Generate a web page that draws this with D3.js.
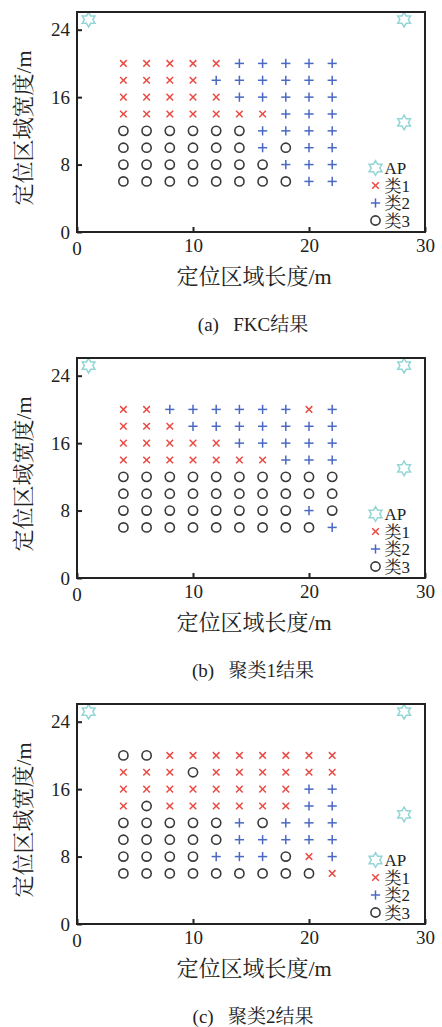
<!DOCTYPE html>
<html>
<head>
<meta charset="utf-8">
<script src="https://cdn.jsdelivr.net/npm/d3@7"></script>
<style>
  body { margin: 0; background: #fff; }
  text { font-family: "Liberation Serif", "Noto Serif CJK SC", "Noto Sans CJK SC", serif; fill: #222; }
</style>
</head>
<body>
<svg id="chart" width="442" height="1027"></svg>
<script>
// grid of test points (m)
const xs = [4, 6, 8, 10, 12, 14, 16, 18, 20, 22];
const ys = [20, 18, 16, 14, 12, 10, 8, 6];

// AP locations (m)
const apX = [1, 28.2, 28.2];
const apY = [25.2, 25.2, 13];

// class of each point, rows follow ys, columns follow xs
const fkcLabels = [
    [1, 1, 1, 1, 1, 2, 2, 2, 2, 2],
    [1, 1, 1, 1, 2, 2, 2, 2, 2, 2],
    [1, 1, 1, 1, 1, 2, 2, 2, 2, 2],
    [1, 1, 1, 1, 1, 1, 1, 2, 2, 2],
    [3, 3, 3, 3, 3, 3, 2, 2, 2, 2],
    [3, 3, 3, 3, 3, 3, 2, 3, 2, 2],
    [3, 3, 3, 3, 3, 3, 3, 2, 2, 2],
    [3, 3, 3, 3, 3, 3, 3, 3, 2, 2]
];
const cluster1Labels = [
    [1, 1, 2, 2, 2, 2, 2, 2, 1, 2],
    [1, 1, 1, 2, 2, 2, 2, 2, 2, 2],
    [1, 1, 1, 1, 1, 2, 2, 2, 2, 2],
    [1, 1, 1, 1, 1, 1, 1, 2, 2, 2],
    [3, 3, 3, 3, 3, 3, 3, 3, 3, 3],
    [3, 3, 3, 3, 3, 3, 3, 3, 3, 3],
    [3, 3, 3, 3, 3, 3, 3, 3, 2, 3],
    [3, 3, 3, 3, 3, 3, 3, 3, 3, 2]
];
const cluster2Labels = [
    [3, 3, 1, 1, 1, 1, 1, 1, 1, 1],
    [1, 1, 1, 3, 1, 1, 1, 1, 1, 1],
    [1, 1, 1, 1, 1, 1, 1, 1, 2, 2],
    [1, 3, 1, 1, 1, 1, 1, 1, 2, 2],
    [3, 3, 3, 3, 3, 2, 3, 2, 2, 2],
    [3, 3, 3, 3, 3, 2, 2, 2, 2, 2],
    [3, 3, 3, 3, 2, 2, 2, 3, 1, 2],
    [3, 3, 3, 3, 3, 3, 3, 3, 3, 1]
];

const xTicks = [0, 10, 20, 30];
const yTicks = [0, 8, 16, 24];
const legendNames = ['AP', '类1', '类2', '类3'];
const captions = ['(a)\u2002 FKC结果', '(b)\u2002 聚类1结果', '(c)\u2002 聚类2结果'];

const panels = [fkcLabels, cluster1Labels, cluster2Labels];

const svg = d3.select('#chart');
const plotL = 77, plotR = 425, plotT = 12, plotB = 232, step = 346;

const x = d3.scaleLinear().domain([0, 30]).range([plotL, plotR]);
const y = d3.scaleLinear().domain([0, 26.1]).range([plotB, plotT]);

// six-pointed star outline
const hexagram = {
    draw(context, size) {
        const R = Math.sqrt(size) * 0.62, r = R / Math.sqrt(3);
        for (let i = 0; i < 12; i++) {
            const a = -Math.PI / 2 + i * Math.PI / 6;
            const rr = i % 2 ? r : R;
            if (i === 0) context.moveTo(rr * Math.cos(a), rr * Math.sin(a));
            else context.lineTo(rr * Math.cos(a), rr * Math.sin(a));
        }
        context.closePath();
    }
};
const star = d3.symbol().type(hexagram).size(140);
const colors = {1: '#ea4a43', 2: '#4a69c4', 3: '#3a3a3a', 0: '#93d6d6'};

function drawMarker(g, cls, px, py) {
    if (cls === 3) {
        g.append('circle').attr('cx', px).attr('cy', py).attr('r', 4.6)
            .attr('fill', 'none').attr('stroke', colors[3]).attr('stroke-width', 1.6);
    } else if (cls === 0) {
        g.append('path').attr('d', star).attr('transform', `translate(${px},${py})`)
            .attr('fill', 'none').attr('stroke', colors[0]).attr('stroke-width', 1.5);
    } else {
        // thin strokes for x and +
        const sz = cls === 1 ? 3.3 : 4.6;
        const segs = cls === 1
            ? [[-sz, -sz, sz, sz], [-sz, sz, sz, -sz]]
            : [[-sz, 0, sz, 0], [0, -sz, 0, sz]];
        segs.forEach(s => g.append('line')
            .attr('x1', px + s[0]).attr('y1', py + s[1])
            .attr('x2', px + s[2]).attr('y2', py + s[3])
            .attr('stroke', colors[cls]).attr('stroke-width', 1.5));
    }
}

panels.forEach((labels, k) => {
    const g = svg.append('g').attr('transform', `translate(0,${k * step})`);

    // points
    const pts = g.append('g');
    labels.forEach((row, i) => row.forEach((cls, j) => drawMarker(pts, cls, x(xs[j]), y(ys[i]))));
    apX.forEach((v, i) => drawMarker(pts, 0, x(v), y(apY[i])));

    // inward ticks
    g.append('g')
        .attr('transform', `translate(0,${plotB})`)
        .call(d3.axisBottom(x).tickValues(xTicks).tickSize(-5).tickPadding(7).tickFormat(d => d === 0 ? '' : d))
        .call(a => a.select('.domain').remove())
        .call(a => a.selectAll('line').attr('stroke', '#222').attr('stroke-width', 2))
        .call(a => a.selectAll('text').attr('font-size', 19).attr('fill', '#222'));
    g.append('g')
        .attr('transform', `translate(${plotL},0)`)
        .call(d3.axisLeft(y).tickValues(yTicks).tickSize(-5).tickPadding(7))
        .call(a => a.select('.domain').remove())
        .call(a => a.selectAll('line').attr('stroke', '#222').attr('stroke-width', 2))
        .call(a => a.selectAll('text').attr('font-size', 19).attr('fill', '#222'));
    // x "0" sits a bit lower and to the right of the y "0"
    g.append('text').attr('x', x(0)).attr('y', plotB + 23).attr('text-anchor', 'middle')
        .attr('font-size', 19).text('0');

    // frame
    g.append('rect').attr('x', plotL).attr('y', plotT)
        .attr('width', plotR - plotL).attr('height', plotB - plotT)
        .attr('fill', 'none').attr('stroke', '#222').attr('stroke-width', 2);

    // legend
    const lg = g.append('g').attr('transform', 'translate(375.5,168)');
    legendNames.forEach((name, i) => {
        const cy = i * 17.5;
        drawMarker(lg, i, 0, cy);
        lg.append('text').attr('x', 9).attr('y', cy + 6).attr('font-size', 17).text(name);
    });

    // axis titles
    g.append('text').attr('x', 254).attr('y', 284).attr('text-anchor', 'middle')
        .attr('font-size', 22).text('定位区域长度/m');
    g.append('text').attr('transform', `translate(31,128) rotate(-90)`)
        .attr('text-anchor', 'middle').attr('font-size', 22).text('定位区域宽度/m');

    // caption
    g.append('text').attr('x', 253).attr('y', 331).attr('text-anchor', 'middle')
        .attr('font-size', 19).text(captions[k]);
});
</script>
</body>
</html>
